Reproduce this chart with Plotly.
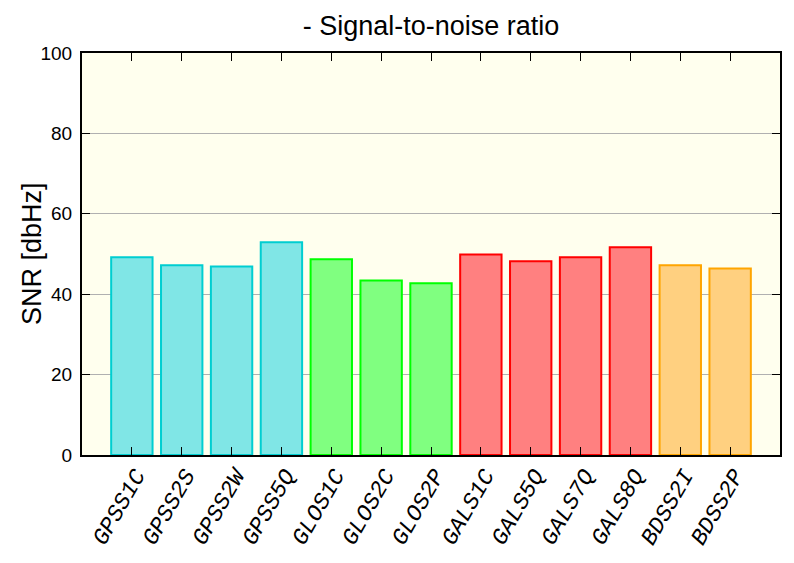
import plotly.graph_objects as go

categories = ["GPSS1C", "GPSS2S", "GPSS2W", "GPSS5Q", "GLOS1C", "GLOS2C", "GLOS2P",
              "GALS1C", "GALS5Q", "GALS7Q", "GALS8Q", "BDSS2I", "BDSS2P"]
snr = [49.2, 47.2, 46.9, 52.9, 48.7, 43.4, 42.7, 49.9, 48.2, 49.2, 51.7, 47.2, 46.4]
y_title = "SNR [dbHz]"

fill_map = {"GPS": "#80E6E6", "GLO": "#80FF80", "GAL": "#FF8080", "BDS": "#FFD080"}
line_map = {"GPS": "#00CED1", "GLO": "#00FF00", "GAL": "#FF0000", "BDS": "#FFA500"}
fills = [fill_map[c[:3]] for c in categories]
lines = [line_map[c[:3]] for c in categories]

fig = go.Figure(go.Bar(
    x=categories, y=snr, width=0.83,
    marker=dict(color=fills, line=dict(color=lines, width=2)),
))

# page body has an 8px margin, so the figure is offset by 8px
fig.update_layout(
    width=786, height=555,
    margin=dict(l=74, r=14, t=45, b=108, autoexpand=False),
    paper_bgcolor="white", plot_bgcolor="#FFFFEE",
    title=dict(text="- Signal-to-noise ratio", xref="paper", x=0.5, xanchor="center",
               y=0.968, yanchor="middle",
               font=dict(family="Liberation Sans", size=27, color="black")),
    showlegend=False,
    font=dict(family="Liberation Sans", color="black"),
    annotations=[dict(text=y_title, textangle=-90, xref="paper", yref="paper",
                      x=-0.0716, y=0.5, xanchor="center", yanchor="middle", showarrow=False,
                      font=dict(family="Liberation Sans", size=27, color="black"))],
)
fig.update_xaxes(
    automargin=False, range=[-1, len(categories)],
    tickangle=-60, ticks="inside", ticklen=8, tickcolor="black",
    tickfont=dict(family="Courier New, Liberation Mono", size=23, style="italic", color="black"),
    ticklabelshift=4, ticklabelstandoff=-4,
    showline=True, linecolor="black", linewidth=2, mirror="ticks", showgrid=False,
)
fig.update_yaxes(
    automargin=False,
    range=[0, 100], tickvals=[0, 20, 40, 60, 80, 100], ticks="inside", ticklen=8, tickcolor="black",
    tickfont=dict(family="Liberation Sans", size=19, color="black"), ticklabelstandoff=4,
    showline=True, linecolor="black", linewidth=2, mirror="ticks",
    showgrid=True, gridcolor="#B0B0B0", gridwidth=1, zeroline=False,
)
fig.write_html("out.html")
